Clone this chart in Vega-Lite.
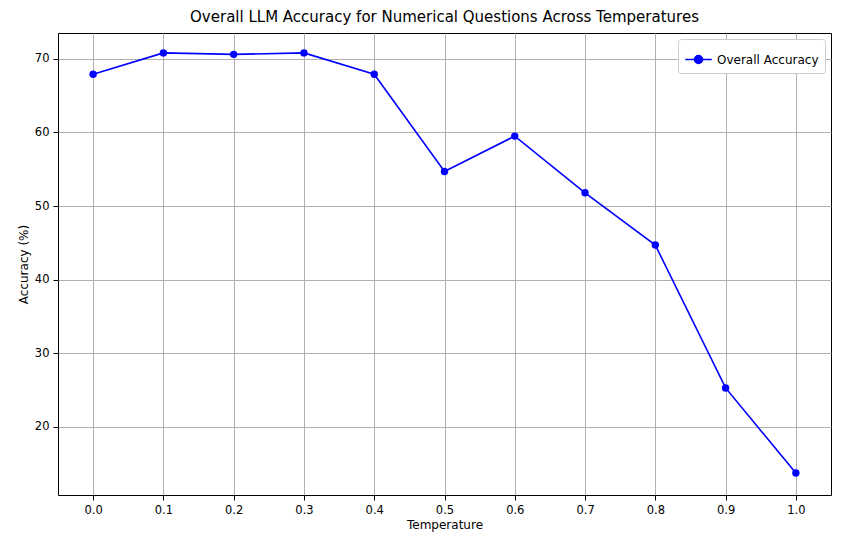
{
  "$schema": "https://vega.github.io/schema/vega-lite/v6.json",
  "width": 773,
  "height": 462,
  "autosize": "none",
  "padding": {"left": 58, "top": 33, "right": 10, "bottom": 52},
  "background": "white",
  "config": {
    "font": "DejaVu Sans",
    "view": {"stroke": "black", "strokeWidth": 1}
  },
  "title": {"text": "Overall LLM Accuracy for Numerical Questions Across Temperatures", "fontSize": 15, "fontWeight": "normal", "color": "black", "offset": 8},
  "data": {"values": [
    {"temp": 0.0, "acc": 67.9, "series": "Overall Accuracy"},
    {"temp": 0.1, "acc": 70.8, "series": "Overall Accuracy"},
    {"temp": 0.2, "acc": 70.6, "series": "Overall Accuracy"},
    {"temp": 0.3, "acc": 70.8, "series": "Overall Accuracy"},
    {"temp": 0.4, "acc": 67.9, "series": "Overall Accuracy"},
    {"temp": 0.5, "acc": 54.7, "series": "Overall Accuracy"},
    {"temp": 0.6, "acc": 59.5, "series": "Overall Accuracy"},
    {"temp": 0.7, "acc": 51.8, "series": "Overall Accuracy"},
    {"temp": 0.8, "acc": 44.7, "series": "Overall Accuracy"},
    {"temp": 0.9, "acc": 25.3, "series": "Overall Accuracy"},
    {"temp": 1.0, "acc": 13.75, "series": "Overall Accuracy"}
  ]},
  "mark": {"type": "line", "point": {"filled": true, "size": 55}, "strokeWidth": 1.6},
  "encoding": {
    "x": {
      "field": "temp", "type": "quantitative", "title": "Temperature",
      "scale": {"domain": [-0.05, 1.05], "nice": false, "zero": false},
      "axis": {"values": [0, 0.1, 0.2, 0.3, 0.4, 0.5, 0.6, 0.7, 0.8, 0.9, 1.0], "format": ".1f", "grid": true, "gridColor": "#b0b0b0", "gridOpacity": 1, "domain": false, "tickColor": "black", "labelColor": "black", "labelFontSize": 11.5, "titleFontSize": 12, "titleFontWeight": "normal", "titleColor": "black", "labelPadding": 4}
    },
    "y": {
      "field": "acc", "type": "quantitative", "title": "Accuracy (%)",
      "scale": {"domain": [10.76, 73.5], "nice": false, "zero": false},
      "axis": {"values": [20, 30, 40, 50, 60, 70], "grid": true, "gridColor": "#b0b0b0", "gridOpacity": 1, "domain": false, "tickColor": "black", "labelColor": "black", "labelFontSize": 11.5, "titleFontSize": 12, "titleFontWeight": "normal", "titleColor": "black", "labelPadding": 4}
    },
    "color": {
      "field": "series", "type": "nominal", "title": null,
      "scale": {"range": ["#0000ff"]},
      "legend": {"orient": "top-right", "offset": 6, "symbolType": "M-1,0H1M0.3,0A0.3,0.3 0 1,1 -0.3,0A0.3,0.3 0 1,1 0.3,0Z", "symbolSize": 700, "symbolStrokeWidth": 1.6, "symbolFillColor": "#0000ff", "symbolStrokeColor": "#0000ff", "labelFontSize": 12, "labelColor": "black", "strokeColor": "#cccccc", "fillColor": "white", "padding": 6, "cornerRadius": 3}
    }
  }
}
